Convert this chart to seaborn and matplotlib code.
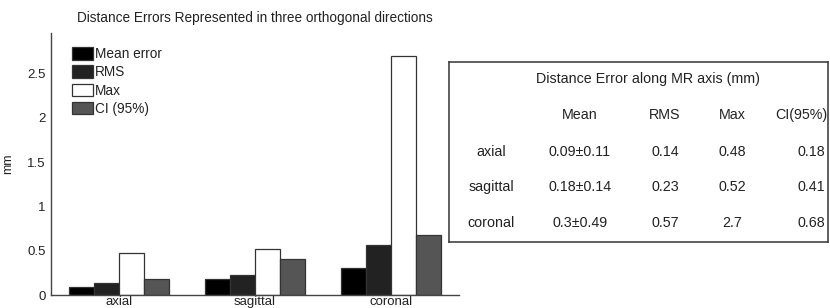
import pandas as pd
import matplotlib.pyplot as plt
import seaborn as sns

directions = ['axial', 'sagittal', 'coronal']
measures = ['Mean error', 'RMS', 'Max', 'CI (95%)']
mean_err = [0.09, 0.18, 0.3]
rms = [0.14, 0.23, 0.57]
max_err = [0.48, 0.52, 2.7]
ci95 = [0.18, 0.41, 0.68]
colors = ['#000000', '#222222', '#ffffff', '#555555']

table_cols = ['Mean', 'RMS', 'Max', 'CI(95%)']
table_mean = ['0.09±0.11', '0.18±0.14', '0.3±0.49']

df = pd.DataFrame({
    'direction': directions * 4,
    'measure': [m for m in measures for _ in directions],
    'value': mean_err + rms + max_err + ci95,
})

sns.set_style('white')
plt.rcParams['font.family'] = ['Liberation Sans', 'DejaVu Sans']

fig = plt.figure(figsize=(8.3, 3.08), dpi=100)
ax = fig.add_axes([0.0614, 0.042, 0.4916, 0.851])

sns.barplot(data=df, x='direction', y='value', hue='measure', palette=colors,
            edgecolor='#333333', linewidth=0.9, width=0.735, ax=ax)
ax.set_ylim(0, 2.96)
ax.set_xlim(-0.5, 2.5)
ax.set_yticks([0, 0.5, 1, 1.5, 2, 2.5])
ax.set_yticklabels(['0', '0.5', '1', '1.5', '2', '2.5'])
ax.tick_params(axis='both', length=0, labelsize=9.5, colors='#222222', pad=4)
ax.tick_params(axis='x', pad=1)
ax.set_xlabel('')
ax.set_ylabel('mm', fontsize=9, color='#222222', labelpad=9)
ax.set_title('Distance Errors Represented in three orthogonal directions',
             fontsize=9.8, color='#222222', pad=8)
for s in ['top', 'right']:
    ax.spines[s].set_visible(False)
for s in ['left', 'bottom']:
    ax.spines[s].set_color('#444444')
    ax.spines[s].set_linewidth(1.0)

leg = ax.legend(loc='upper left', bbox_to_anchor=(0.051, 0.945), frameon=False,
                fontsize=9.8, handlelength=1.55, handleheight=1.05,
                labelspacing=0.3, handletextpad=0.15, borderaxespad=0,
                borderpad=0)
for h in leg.legend_handles:
    h.set_edgecolor('#333333')
for t in leg.get_texts():
    t.set_color('#222222')

# table on the right
tab = fig.add_axes([449 / 830, 1 - 242 / 308, (828 - 449) / 830, 180 / 308])
tab.set_xlim(449, 828)
tab.set_ylim(242, 62)
tab.set_xticks([])
tab.set_yticks([])
for s in tab.spines.values():
    s.set_color('#444444')
    s.set_linewidth(1.2)
fs = 10.3
tab.text(648, 79, 'Distance Error along MR axis (mm)', ha='center', va='center',
         fontsize=fs, color='#222222')
col_x = [580, 665, 732, 811]
head_x = [580, 665, 732, 801]
row_y = [152, 187, 223]
for cx, c in zip(head_x, table_cols):
    tab.text(cx, 115, c, ha='center', va='center', fontsize=fs, color='#222222')
rows = list(zip(table_mean, rms, max_err, ci95))
for ry, d, r in zip(row_y, directions, rows):
    tab.text(491, ry, d, ha='center', va='center', fontsize=fs, color='#222222')
    for cx, v in zip(col_x, r):
        tab.text(cx, ry, str(v), ha='center', va='center', fontsize=fs, color='#222222')

fig.savefig('out.png', dpi=100)
